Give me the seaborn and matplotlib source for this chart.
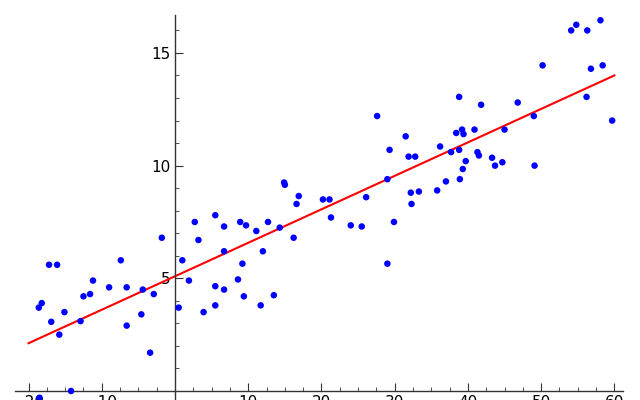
import numpy as np
import matplotlib
matplotlib.use("Agg")
import matplotlib.pyplot as plt
import seaborn as sns
from matplotlib.ticker import MultipleLocator, FixedLocator

x = [-18.6,-18.2,-17.2,-16.1,-16.9,-15.8,-15.1,-14.2,-18.5,-12.9,-12.5,-11.6,-11.2,-9.0,-7.4,-6.6,-6.6,-4.6,-4.4,-3.4,-2.9,-1.8,
     0.5,1.0,1.9,2.7,3.2,3.9,5.5,5.5,5.5,6.7,6.7,6.7,8.6,8.9,9.2,9.4,9.7,11.1,11.7,12.0,12.7,13.5,14.3,14.9,15.0,16.2,16.6,16.9,
     20.2,21.1,21.3,24.0,25.5,26.1,27.6,29.0,29.0,29.3,29.9,31.5,31.9,32.8,32.2,32.3,33.3,35.8,36.2,37.0,37.7,38.4,38.8,38.8,39.2,
     39.4,39.3,38.9,39.7,40.9,41.3,41.5,41.8,43.3,43.7,44.7,45.0,46.8,49.0,49.1,50.2,54.1,54.8,56.3,56.2,56.8,58.1,58.4,59.7]
y = [3.7,3.9,5.6,5.6,3.07,2.5,3.5,0.0,-0.3,3.1,4.2,4.3,4.9,4.6,5.8,4.6,2.9,3.4,4.5,1.7,4.3,6.8,
     3.7,5.8,4.9,7.5,6.7,3.5,7.8,4.65,3.8,7.3,6.2,4.5,4.95,7.5,5.65,4.2,7.35,7.1,3.8,6.2,7.5,4.25,7.25,9.25,9.15,6.8,8.3,8.65,
     8.5,8.5,7.7,7.35,7.3,8.6,12.2,9.4,5.65,10.7,7.5,11.3,10.4,10.4,8.8,8.3,8.85,8.9,10.85,9.3,10.6,11.45,13.05,10.7,11.6,
     11.4,9.85,9.4,10.2,11.6,10.6,10.45,12.7,10.35,10.0,10.15,11.6,12.8,12.2,10.0,14.45,16.0,16.25,16.0,13.05,14.3,16.45,14.45,12.0]
line_x = [-20, 60]

fig = plt.figure(figsize=(6.4, 4.0), dpi=100)
ax = fig.add_axes([0, 0, 1, 1])
slope, icpt = np.polyfit(x, y, 1)
lx = np.array(line_x, dtype=float)
sns.lineplot(x=lx, y=slope * lx + icpt, color="red", lw=1.5, ax=ax, zorder=2)
sns.scatterplot(x=x, y=y, color="blue", s=22, edgecolor="none", ax=ax, zorder=3, clip_on=False)

ax.set_xlim(-23.9, 63.5)
ax.set_ylim(-0.4, 17.35)
for s in ["top", "right"]:
    ax.spines[s].set_visible(False)
ax.spines["left"].set_position(("data", 0))
ax.spines["bottom"].set_position(("data", 0))
ax.spines["left"].set_bounds(-0.4, 16.7)
ax.spines["bottom"].set_bounds(-21.8, 61.2)
for s in ["left", "bottom"]:
    ax.spines[s].set_color("#333333")
    ax.spines[s].set_linewidth(1.0)
ax.xaxis.set_minor_locator(FixedLocator(np.arange(-20, 60.1, 2.5)))
ax.yaxis.set_minor_locator(FixedLocator(np.arange(0, 16.1, 1)))
ax.set_xticks([-20, -10, 10, 20, 30, 40, 50, 60])
ax.set_yticks([5, 10, 15])
ax.tick_params(which="major", direction="in", length=6, color="#333333", labelsize=11)
ax.tick_params(which="minor", direction="in", length=3, color="#333333")
ax.tick_params(axis="x", pad=3)
for lab in ax.get_xticklabels() + ax.get_yticklabels():
    lab.set_clip_on(False)
fig.savefig("out.png", dpi=100)
